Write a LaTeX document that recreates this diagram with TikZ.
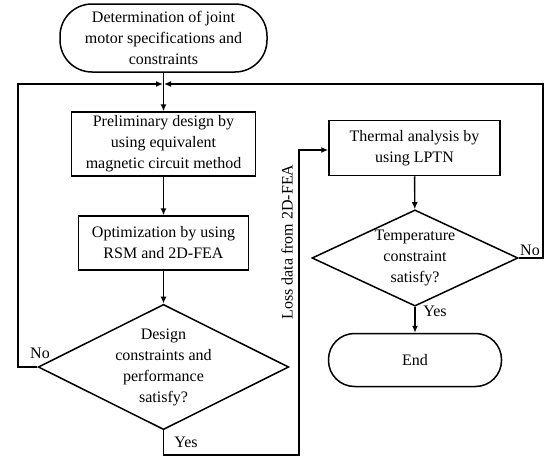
\documentclass[tikz,border=0pt]{standalone}
\usepackage{fontspec}
\setmainfont{Liberation Serif}
\usetikzlibrary{shapes.geometric,arrows.meta}
\begin{document}
\begin{tikzpicture}[x=1pt,y=-1pt,
  every node/.style={font=\fontsize{16}{21}\selectfont},
  line/.style={line width=1.4pt},
  arr/.style={line width=1.4pt,-{Latex[length=7pt,width=6pt]}},
  procbox/.style={draw,line width=1.5pt,align=center,inner sep=0pt},
  termbox/.style={draw,line width=1.5pt,align=center,inner sep=0pt},
  decbox/.style={draw,line width=1.5pt,diamond,align=center,inner sep=0pt,aspect=2},
  lbl/.style={inner sep=1pt}]
\useasboundingbox (0,0) rectangle (550,463);
\node[termbox,minimum width=207pt,minimum height=68pt,rounded corners=32pt] (start) at (163.5,38) {Determination of joint\\motor specifications and\\constraints};
\node[procbox,minimum width=184pt,minimum height=64pt] (prelim) at (163.5,144) {Preliminary design by\\using equivalent\\magnetic circuit method};
\node[procbox,minimum width=170pt,minimum height=54pt] (opt) at (163.5,243) {Optimization by using\\RSM and 2D-FEA};
\node[decbox,minimum width=244pt,minimum height=122pt] (dec1) at (163.5,367) {Design\\constraints and\\performance\\satisfy?};
\node[procbox,minimum width=171pt,minimum height=55pt] (thermal) at (414.5,148) {Thermal analysis by\\using LPTN};
\node[decbox,minimum width=206pt,minimum height=87pt] (dec2) at (415,258) {Temperature\\constraint\\satisfy?};
\node[termbox,minimum width=173pt,minimum height=53pt,rounded corners=26pt] (fin) at (415,360) {End};
\coordinate (merge) at (163.5,84);
\draw[arr] (start) -- (prelim);
\draw[arr] (prelim) -- (opt);
\draw[arr] (opt) -- (dec1);
\draw[arr] (dec1.west) -- (18,367) -- (18,84) -- ([xshift=-0.5pt]merge);
\draw[arr] (dec2.east) -- (543,258) -- (543,84) -- ([xshift=0.5pt]merge);
\draw[arr] (dec1.south) -- (163.5,455) -- (299,455) -- (299,150) -- (thermal.west |- 0,150);
\draw[arr] (thermal) -- (dec2);
\draw[arr] (dec2) -- (fin);
\node[lbl] (no1) at (40,353) {No};
\node[lbl] (yes1) at (186,442) {Yes};
\node[lbl] (no2) at (530,250) {No};
\node[lbl] (yes2) at (435,311) {Yes};
\node[lbl,rotate=90] (loss) at (287,242) {Loss data from 2D-FEA};
\end{tikzpicture}
\end{document}
